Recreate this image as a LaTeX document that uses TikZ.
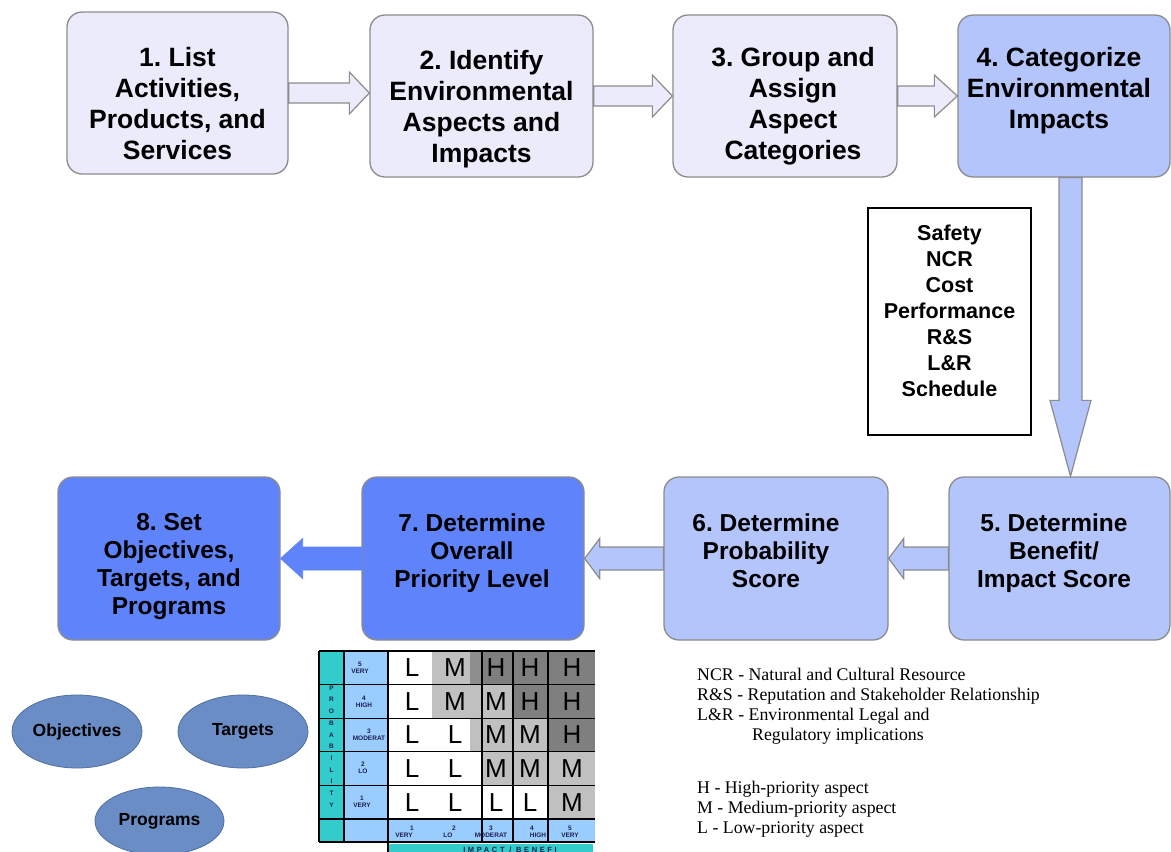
\documentclass[tikz,border=0pt]{standalone}
\usepackage{fontspec}
\setmainfont{Liberation Sans}
\newfontfamily\legfont{Liberation Serif}
\newfontfamily\spacedfont[LetterSpace=35]{Liberation Sans}
\usetikzlibrary{calc,shapes.geometric}
\frenchspacing
\definecolor{lav}{HTML}{EBEBFC}
\definecolor{peri}{HTML}{B3C5FB}
\definecolor{royal}{HTML}{5F83FA}
\definecolor{bord}{HTML}{8C8C8C}
\definecolor{ellfill}{HTML}{6A8DC6}
\definecolor{ellline}{HTML}{506E9E}
\definecolor{tealc}{HTML}{33CCCC}
\definecolor{lblue}{HTML}{99CCFF}
\definecolor{lgray}{HTML}{C0C0C0}
\definecolor{mgray}{HTML}{8E8E8E}
\definecolor{dgray}{HTML}{7F7F7F}
\definecolor{labc}{HTML}{1E1E50}
\tikzset{
  stepbox/.style={draw=bord, line width=1.3pt, rounded corners=15pt, inner sep=0pt},
  toptext/.style={font=\bfseries\fontsize{26.5}{31}\selectfont, align=center, anchor=north, inner sep=0pt},
  bottext/.style={font=\bfseries\fontsize{24.5}{28}\selectfont, align=center, anchor=north, inner sep=0pt},
  arrowlav/.style={fill=lav, draw=bord, line width=1.2pt},
  arrowperi/.style={fill=peri, draw=bord, line width=1.2pt},
  arrowroyal/.style={fill=royal, draw=royal, line width=0.8pt},
  ellnode/.style={ellipse, fill=ellfill, draw=ellline, line width=0.8pt, inner sep=0pt,
     font=\bfseries\fontsize{17.5}{20}\selectfont},
  cellletter/.style={font=\fontsize{26}{26}\selectfont, inner sep=0pt},
  tinylab/.style={font=\bfseries\fontsize{6.5}{7.5}\selectfont, text=labc, inner sep=0pt, align=center},
  legend/.style={font=\legfont\fontsize{17.8}{20}\selectfont, anchor=base west, inner sep=0pt}
}
% horizontal block arrow: style, from, to, shaft half, head half, head length
\newcommand{\harrow}[6]{%
  \path[#1] let \p1=(#2), \p2=(#3), \n1={sign(\x2-\x1)} in
    (\x1,\y1+#4) -- (\x2-\n1*#6,\y1+#4) -- (\x2-\n1*#6,\y1+#5) -- (\x2,\y1)
    -- (\x2-\n1*#6,\y1-#5) -- (\x2-\n1*#6,\y1-#4) -- (\x1,\y1-#4) -- cycle;}
\begin{document}
\begin{tikzpicture}[x=1pt,y=-1pt]
\fill[white] (0,0) rectangle (1171,852);
\useasboundingbox (0,0) rectangle (1171,852);

% ---------- top row boxes
\node[stepbox, fill=lav,  minimum width=221pt, minimum height=162pt] (b1) at (177.5,93) {};
\node[stepbox, fill=lav,  minimum width=223pt, minimum height=162pt] (b2) at (481.5,96) {};
\node[stepbox, fill=lav,  minimum width=224pt, minimum height=162pt] (b3) at (785,96) {};
\node[stepbox, fill=peri, minimum width=212pt, minimum height=162pt] (b4) at (1064,96) {};
% ---------- bottom row boxes
\node[stepbox, fill=royal, minimum width=222pt, minimum height=163pt] (b8) at (169,558.5) {};
\node[stepbox, fill=royal, minimum width=222pt, minimum height=163pt] (b7) at (473,558.5) {};
\node[stepbox, fill=peri,  minimum width=224pt, minimum height=163pt] (b6) at (776,558.5) {};
\node[stepbox, fill=peri,  minimum width=221pt, minimum height=163pt] (b5) at (1059.5,558.5) {};

% ---------- box texts
\node[toptext] (t1) at (177.5,47.5) {1. List\\Activities,\\Products, and\\Services};
\node[toptext] (t2) at (481.5,50.5) {2. Identify\\Environmental\\Aspects and\\Impacts};
\node[toptext] (t3) at (793,47.5) {3. Group and\\Assign\\Aspect\\Categories};
\node[toptext] (t4) at (1059,47.5) {4. Categorize\\Environmental\\Impacts};
\node[bottext] (t8) at (169,513) {8. Set\\Objectives,\\Targets, and\\Programs};
\node[bottext] (t7) at (472,514) {7. Determine\\Overall\\Priority Level};
\node[bottext] (t6) at (766,514) {6. Determine\\Probability\\Score};
\node[bottext] (t5) at (1054,514) {5. Determine\\Benefit/\\Impact Score};

% ---------- arrows
\harrow{arrowlav}{b1.east}{b2.west}{10pt}{21pt}{20pt}
\harrow{arrowlav}{b2.east}{b3.west}{10pt}{21pt}{20pt}
\harrow{arrowlav}{b3.east}{b4.west}{10pt}{21pt}{23pt}
\harrow{arrowperi}{b5.west}{b6.east}{11.5pt}{20pt}{15pt}
\harrow{arrowperi}{b6.west}{b7.east}{11.5pt}{20pt}{15pt}
\harrow{arrowroyal}{b7.west}{b8.east}{11.5pt}{20pt}{22pt}
\coordinate (va) at (1070.5,177.5);
\path[arrowperi] let \p1=(va), \p2=(b5.north) in
  (\x1-11.5pt,\y1) -- (\x1-11.5pt,\y2+76pt) -- (\x1-20.5pt,\y2+76pt) -- (\x1,\y2)
  -- (\x1+20.5pt,\y2+76pt) -- (\x1+11.5pt,\y2+76pt) -- (\x1+11.5pt,\y1) -- cycle;

% ---------- categories box
\node[draw=black, line width=1.3pt, minimum width=163pt, minimum height=227pt, inner sep=0pt] (cats) at (949.5,321.5) {};
\node[font=\bfseries\fontsize{21.5}{26}\selectfont, align=center, anchor=north, inner sep=0pt] (catstext) at (949.5,225)
  {Safety\\NCR\\Cost\\Performance\\R\&S\\L\&R\\Schedule};

% ---------- ellipses
\node[ellnode, minimum width=130pt, minimum height=73pt] (obj) at (77,731.5) {Objectives};
\node[ellnode, minimum width=130pt, minimum height=73pt] (tgt) at (243,731.5) {Targets};
\node[ellnode, minimum width=129pt, minimum height=68pt] (prg) at (159.5,821) {Programs};

% ---------- priority matrix
\fill[tealc] (319,651) rectangle (344,842);
\fill[lblue] (344,651) rectangle (388,842);
\fill[lblue] (388,819) rectangle (595,842);
\fill[tealc] (388,844) rectangle (593,862);
% row 5
\fill[white] (388,651) rectangle (432,684.6);
\fill[lgray] (432,651) rectangle (470,684.6);
\fill[mgray] (470,651) rectangle (482,684.6);
\fill[dgray] (482,651) rectangle (595,684.6);
% row 4
\fill[white] (388,684.6) rectangle (432,718.2);
\fill[lgray] (432,684.6) rectangle (513,718.2);
\fill[dgray] (513,684.6) rectangle (595,718.2);
% row 3
\fill[white] (388,718.2) rectangle (470,751.8);
\fill[lgray] (470,718.2) rectangle (548,751.8);
\fill[dgray] (548,718.2) rectangle (595,751.8);
% row 2
\fill[white] (388,751.8) rectangle (482,785.4);
\fill[lgray] (482,751.8) rectangle (595,785.4);
% row 1
\fill[white] (388,785.4) rectangle (548,819);
\fill[lgray] (548,785.4) rectangle (595,819);
% grid lines
\foreach \yy in {651,684.6,718.2,751.8,785.4,819,842}
  \draw[black, line width=1.1pt] (319,\yy) -- (595,\yy);
\foreach \xx in {319,344,388,482,513,548}
  \draw[black, line width=1.1pt] (\xx,651) -- (\xx,842);
\draw[black, line width=1.1pt] (388,842) -- (388,852);
% letters
\foreach \yy/\ca/\cb/\cc/\cd/\ce [count=\r] in {668/L/M/H/H/H, 701.4/L/M/M/H/H, 735/L/L/M/M/H, 768.6/L/L/M/M/M, 802.2/L/L/L/L/M} {
  \node[cellletter] (m\r a) at (412,\yy) {\ca};
  \node[cellletter] (m\r b) at (455,\yy) {\cb};
  \node[cellletter] (m\r c) at (496,\yy) {\cc};
  \node[cellletter] (m\r d) at (530,\yy) {\cd};
  \node[cellletter] (m\r e) at (572,\yy) {\ce};
}
% probability labels
\node[tinylab] (p5) at (360,668) {5\\VERY};
\node[tinylab] (p4) at (364,702) {4\\HIGH};
\node[tinylab] (p3) at (369,735) {3\\MODERAT};
\node[tinylab] (p2) at (363,768) {2\\LO};
\node[tinylab] (p1) at (362,802) {1\\VERY};
\node[tinylab, font=\bfseries\fontsize{6.5}{11.7}\selectfont] (prob) at (331.5,746.5)
  {P\\R\\O\\B\\A\\B\\I\\L\\I\\T\\Y};
% impact labels
\node[tinylab] (i1) at (404,832) {\hspace*{16pt}1\\VERY};
\node[tinylab] (i2) at (448,832) {\hspace*{12pt}2\\LO};
\node[tinylab] (i3) at (491,832) {3\\MODERAT};
\node[tinylab] (i4) at (535,832) {4\hspace*{6pt}\\\hspace*{6pt}HIGH};
\node[tinylab] (i5) at (570,832) {5\\VERY};
\node[font=\spacedfont\bfseries\fontsize{7.5}{8}\selectfont, text=labc, inner sep=0pt, anchor=base] (imp) at (510,852.5) {IMPACT / BENEFI};

% ---------- legend
\node[legend] (l1) at (697,680) {NCR - Natural and Cultural Resource};
\node[legend] (l2) at (697,700) {R\&S - Reputation and Stakeholder Relationship};
\node[legend] (l3) at (697,720) {L\&R - Environmental Legal and};
\node[legend] (l4) at (752,740) {Regulatory implications};
\node[legend] (l5) at (697,793) {H - High-priority aspect};
\node[legend] (l6) at (697,813) {M - Medium-priority aspect};
\node[legend] (l7) at (697,833) {L - Low-priority aspect};
\end{tikzpicture}
\end{document}
